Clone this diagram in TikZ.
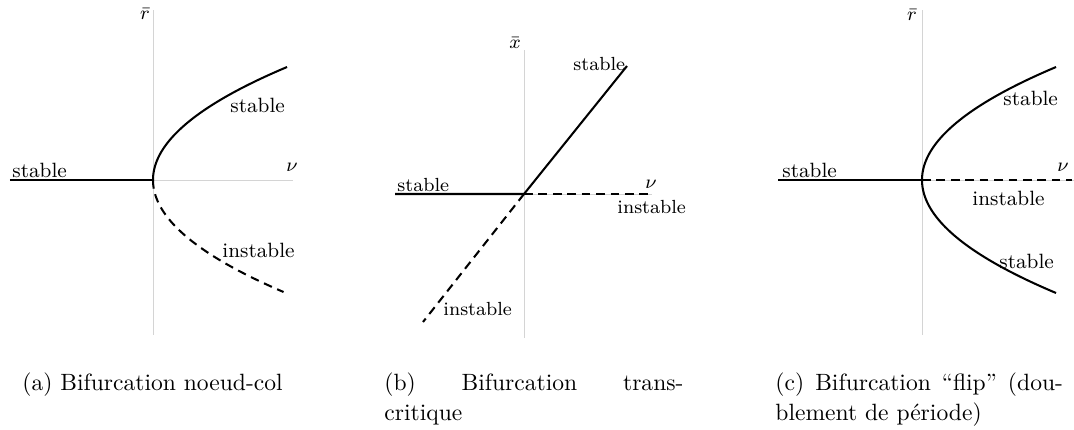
\documentclass[tikz,border=0pt]{standalone}
\usepackage{amsmath,amssymb}
\usepackage{tikz}
\usetikzlibrary{arrows.meta,positioning,calc}
\definecolor{axisgray}{RGB}{212,212,212}

\begin{document}
\begin{tikzpicture}[
    x=0.416pt, y=-0.416pt,
    axe/.style={draw=axisgray, line width=0.4pt},
    branche/.style={black, line width=0.85pt},
    instab/.style={black, line width=0.85pt, dash pattern=on 3.6pt off 2.4pt},
    lbl/.style={anchor=base west, inner sep=0pt, font=\fontsize{8.6}{10}\selectfont},
    lblb/.style={lbl, font=\fontsize{7.9}{9.5}\selectfont},
    axlbl/.style={inner sep=0pt, font=\fontsize{8}{9.5}\selectfont},
    legende/.style={anchor=base west, inner sep=0pt, align=left, font=\fontsize{9.8}{12.5}\selectfont}
]
    \useasboundingbox (0,0) rectangle (1074,429);

    \coordinate (Oa) at (153,180);
    \coordinate (Xa) at (10,180);
    \coordinate (Ea) at (293,180);
    \coordinate (Ta) at (153,10);
    \coordinate (Ba) at (153,335);
    \draw[axe] (Xa) -- (Ea);
    \draw[axe] (Ta) -- (Ba);
    \draw[branche] (Xa) -- (Oa);
    \draw[branche] plot[domain=0:113, samples=60, smooth] ({153+0.0105*\x*\x},{180-\x});
    \draw[instab] plot[domain=0:112, samples=60, smooth] ({153+0.0104*\x*\x},{180+\x});
    \node[axlbl] (ra) at (145,14) {$\bar r$};
    \node[axlbl] (nua) at (292,167) {$\nu$};
    \node[lbl] (sa1) at (12,177) {stable};
    \node[lbl] (sa2) at (230,112) {stable};
    \node[lbl] (ia) at (222,257) {instable};

    \coordinate (Ob) at (524,194);
    \coordinate (Xb) at (395,194);
    \coordinate (Eb) at (652,194);
    \coordinate (Tb) at (524,50);
    \coordinate (Bb) at (524,338);
    \coordinate (Hb) at (627,66);
    \coordinate (Lb) at (423,322);
    \draw[axe] (Xb) -- (Eb);
    \draw[axe] (Tb) -- (Bb);
    \draw[branche] (Xb) -- (Ob) -- (Hb);
    \draw[instab] (Ob) -- (650,194);
    \draw[instab] (Ob) -- (Lb);
    \node[axlbl] (xb) at (515,43) {$\bar x$};
    \node[axlbl] (nub) at (651,184) {$\nu$};
    \node[lblb] (sb1) at (397,191) {stable};
    \node[lblb] (sb2) at (573,70) {stable};
    \node[lblb] (ib1) at (617,213) {instable};
    \node[lblb] (ib2) at (443,315) {instable};

    \coordinate (Oc) at (922,180);
    \coordinate (Xc) at (778,180);
    \coordinate (Ec) at (1074,180);
    \coordinate (Tc) at (922,10);
    \coordinate (Bc) at (922,335);
    \draw[axe] (Xc) -- (Ec);
    \draw[axe] (Tc) -- (Bc);
    \draw[branche] (Xc) -- (Oc);
    \draw[instab] (Oc) -- (1072,180);
    \draw[branche] plot[domain=-113:113, samples=90, smooth] ({922+0.0105*\x*\x},{180-\x});
    \node[axlbl] (rc) at (912,15) {$\bar r$};
    \node[axlbl] (nuc) at (1063,167) {$\nu$};
    \node[lbl] (sc1) at (782,177) {stable};
    \node[lbl] (sc2) at (1003,105) {stable};
    \node[lbl] (ic) at (972,205) {instable};
    \node[lbl] (sc3) at (999,268) {stable};

    \node[legende] (capa) at (22,390) {(a) Bifurcation noeud-col};
    \node[legende, text width=124.4pt] (capb) at (384,390) {(b)\hfill Bifurcation\hfill trans-\\critique};
    \node[legende, text width=119.6pt] (capc) at (775,390) {(c)\hfill Bifurcation\hfill “flip”\hfill (dou-\\blement de période)};
\end{tikzpicture}
\end{document}
